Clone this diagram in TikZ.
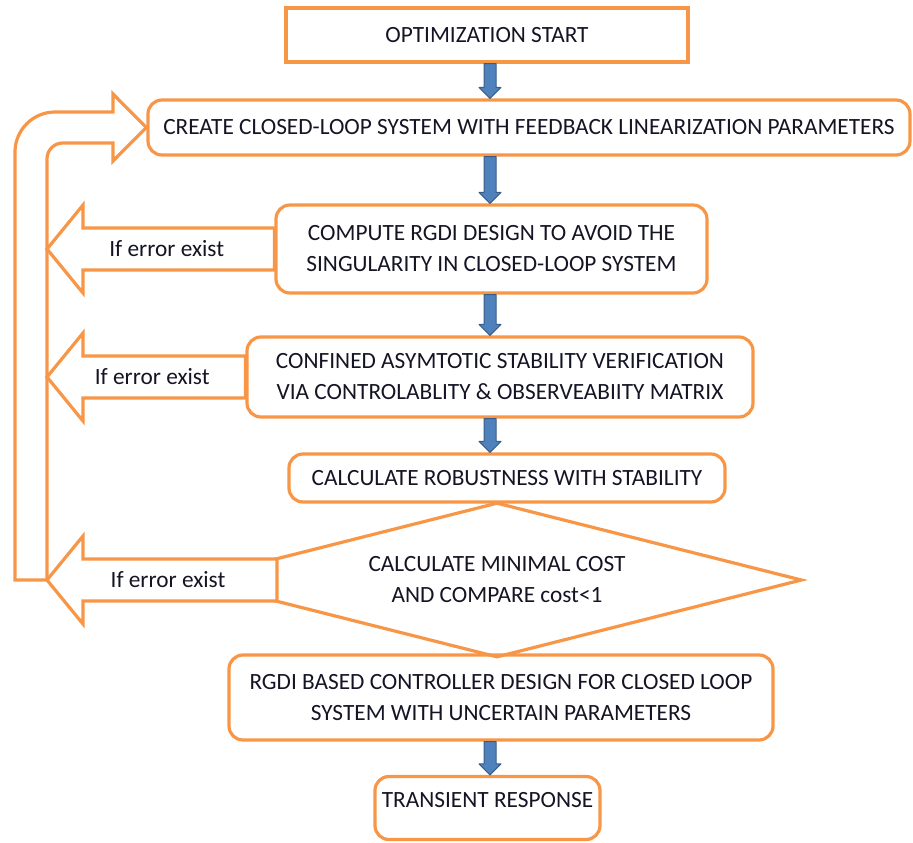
\documentclass[tikz,border=0pt]{standalone}
\usepackage{fontspec}
\setmainfont{Carlito}
\usetikzlibrary{calc,shapes.geometric}

\definecolor{boxorange}{HTML}{F79646}
\definecolor{arrowblue}{HTML}{4F81BD}
\definecolor{arrowdark}{HTML}{385D8A}
\definecolor{textdark}{HTML}{141424}

% block arrow pointing down, on the column of (axis)
\newcommand\blockdown[2]{%
\draw[bluearrow] ($(#1.south -| axis)+(-6,0)$) -- ($(#2.north -| axis)+(-6,-11)$) -- ($(#2.north -| axis)+(-11,-11)$) -- (#2.north -| axis) -- ($(#2.north -| axis)+(11,-11)$) -- ($(#2.north -| axis)+(6,-11)$) -- ($(#1.south -| axis)+(6,0)$) -- cycle;}

% white block arrow pointing left, back to the loop
\newcommand\errarrow[2]{%
\coordinate (#1tip) at (#2 -| loopin);
\draw[errline, fill=white] ($(#2)+(0,-21)$) -- ($(#1tip)+(36,-21)$) -- ($(#1tip)+(36,-44)$) -- (#1tip) -- ($(#1tip)+(36,44)$) -- ($(#1tip)+(36,21)$) -- ($(#2)+(0,21)$) -- cycle;
\node[errtext] (#1) at ($($(#1tip)!.5!(#2)$)+(6,0)$) {If error exist};}

\begin{document}
\begin{tikzpicture}[x=1pt,y=-1pt,
  font=\fontsize{23.3}{31}\selectfont, text=textdark,
  stepbox/.style={draw=boxorange, line width=3.2pt, rounded corners=14pt, inner sep=0pt, align=center},
  decision/.style={draw=boxorange, line width=3.2pt, diamond, aspect=3.9, inner sep=0pt, align=center, minimum width=610pt, minimum height=155pt},
  errline/.style={draw=boxorange, line width=3.2pt, line join=miter},
  errtext/.style={inner sep=0pt},
  bluearrow/.style={draw=arrowdark, fill=arrowblue, line width=1pt, line join=round}]

\useasboundingbox (0,0) rectangle (913,843);

\coordinate (axis) at (490,0);
\coordinate (loopin) at (47,0);
\coordinate (loopout) at (15,0);

\node[stepbox, sharp corners, minimum width=402pt, minimum height=54pt] (start) at (487,35) {OPTIMIZATION START};
\node[stepbox, minimum width=762pt, minimum height=55pt] (create) at (529,127.5) {CREATE CLOSED-LOOP SYSTEM WITH FEEDBACK LINEARIZATION PARAMETERS};

% loop back to the top
\coordinate (costcut) at (277,580);
\draw[errline] (costcut -| loopin) -- (costcut -| loopout) -- (15,152) .. controls (15,130) and (33,112) .. (55,112) -- (113,112) -- (113,94) -- (create.west) -- (113,161) -- (113,143) -- (63,143) .. controls (54,143) and (47,150) .. (47,159) -- (costcut -| loopin);

\node[stepbox, minimum width=431pt, minimum height=88pt] (compute) at (491.5,249) {COMPUTE RGDI DESIGN TO AVOID THE\\SINGULARITY IN CLOSED-LOOP SYSTEM};
\node[stepbox, minimum width=506pt, minimum height=80pt] (confined) at (500,377) {CONFINED ASYMTOTIC STABILITY VERIFICATION\\VIA CONTROLABLITY \& OBSERVEABIITY MATRIX};
\node[stepbox, minimum width=436pt, minimum height=48pt] (robust) at (507,478) {CALCULATE ROBUSTNESS WITH STABILITY};
\node[decision] (cost) at (497,580) {CALCULATE MINIMAL COST\\AND COMPARE cost<1};
\node[stepbox, minimum width=544pt, minimum height=85pt] (design) at (501,697.5) {RGDI BASED CONTROLLER DESIGN FOR CLOSED LOOP\\SYSTEM WITH UNCERTAIN PARAMETERS};
\node[stepbox, minimum width=225pt, minimum height=63pt] (transient) at (487.5,808) {TRANSIENT RESPONSE\\[-15pt]~};

\errarrow{errA}{compute.west}
\errarrow{errB}{confined.west}
\errarrow{errC}{costcut}

\blockdown{start}{create}
\blockdown{create}{compute}
\blockdown{compute}{confined}
\blockdown{confined}{robust}
\blockdown{design}{transient}

\end{tikzpicture}
\end{document}
